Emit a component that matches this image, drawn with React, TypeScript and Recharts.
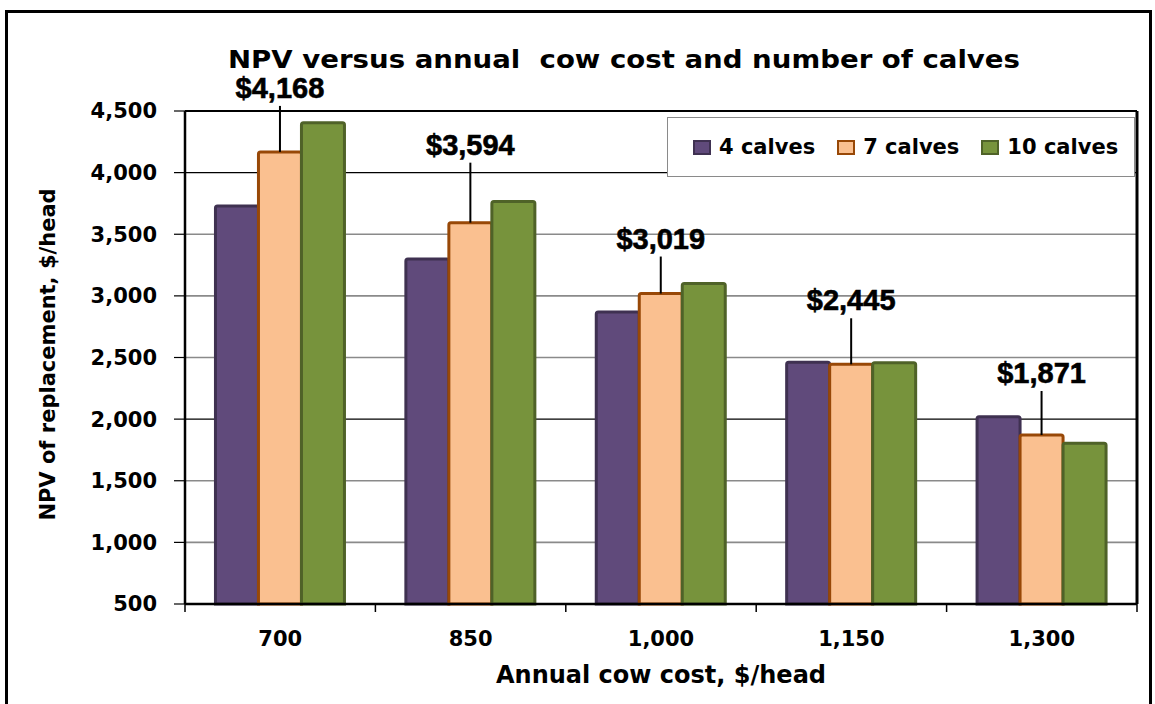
import React from "react";
import {
  Bar,
  BarChart,
  CartesianGrid,
  LabelList,
  Legend,
  XAxis,
  YAxis,
} from "recharts";

// annual cow cost, $/head
const costs = ["700", "850", "1,000", "1,150", "1,300"];

// NPV of replacement, $/head
const calves4 = [3730, 3300, 2870, 2462, 2020];
const calves7 = [4168, 3594, 3019, 2445, 1871];
const calves10 = [4405, 3765, 3100, 2458, 1805];

const yTicks = [500, 1000, 1500, 2000, 2500, 3000, 3500, 4000, 4500];
const seriesNames = ["4 calves", "7 calves", "10 calves"];

// callouts were hand placed in the original, so each sits a bit differently above its bar
const calloutRise = [54, 68, 45, 54, 52];

const W = 1155;
const H = 704;
const PLOT_LEFT = 185;
const PLOT_TOP = 111;
const PLOT_RIGHT = 1137;
const PLOT_BOTTOM = 604;
const BAND = (PLOT_RIGHT - PLOT_LEFT) / costs.length;

const FONT = "'DejaVu Sans', Verdana, sans-serif";

const series = [
  { key: "c4", name: seriesNames[0], fill: "#604A7B", stroke: "#3F3151" },
  { key: "c7", name: seriesNames[1], fill: "#FAC090", stroke: "#984807" },
  { key: "c10", name: seriesNames[2], fill: "#77933C", stroke: "#4F6228" },
];

const data = costs.map((cost, i) => ({
  cost,
  c4: calves4[i],
  c7: calves7[i],
  c10: calves10[i],
}));

const fmt = (v: number) => v.toLocaleString("en-US");

const GridRow = (p: any) => {
  const v = yTicks[p.index];
  const dark = v === 2000 || v === 4000;
  return (
    <line
      key={p.key}
      x1={p.x1}
      x2={p.x2}
      y1={p.y1}
      y2={p.y2}
      stroke={dark ? "#000" : "#8a8a8a"}
      strokeWidth={dark ? 1.2 : 1.6}
    />
  );
};

const CostTick = (props: any) => {
  const { x, y, payload, index } = props;
  const edge = x - BAND / 2;
  return (
    <g>
      <line x1={edge} x2={edge} y1={y} y2={y + 8} stroke="#000" strokeWidth={1.5} />
      {index === costs.length - 1 && (
        <line x1={x + BAND / 2} x2={x + BAND / 2} y1={y} y2={y + 8} stroke="#000" strokeWidth={1.5} />
      )}
      <text
        x={x}
        y={y + 42}
        textAnchor="middle"
        fontFamily={FONT}
        fontWeight="bold"
        fontSize={21}
        fill="#000"
      >
        {payload.value}
      </text>
    </g>
  );
};

const Callout = (props: any) => {
  const { x, y, width, value, index } = props;
  const cx = x + width / 2;
  const rise = calloutRise[index];
  return (
    <g>
      <line x1={cx} x2={cx} y1={y - rise + 8} y2={y} stroke="#000" strokeWidth={2} />
      <text
        x={cx}
        y={y - rise}
        textAnchor="middle"
        fontFamily="'Liberation Sans', Arial, sans-serif"
        fontWeight="bold"
        fontSize={29}
        fill="#000"
        stroke="#000"
        strokeWidth={0.6}
      >
        ${fmt(value)}
      </text>
    </g>
  );
};

const LegendBox = () => (
  <div
    style={{
      boxSizing: "border-box",
      width: 468,
      height: 60,
      border: "1px solid #8a8a8a",
      background: "#fff",
      display: "flex",
      alignItems: "center",
      paddingLeft: 25,
      fontFamily: FONT,
      fontWeight: "bold",
      fontSize: 21,
      color: "#000",
      whiteSpace: "nowrap",
    }}
  >
    {series.map((s) => (
      <div key={s.key} style={{ display: "flex", alignItems: "center", marginRight: 22, flex: "none" }}>
        <span
          style={{
            boxSizing: "border-box",
            display: "inline-block",
            width: 18,
            height: 15,
            background: s.fill,
            border: `2px solid ${s.stroke}`,
            marginRight: 8,
          }}
        />
        <span>{s.name}</span>
      </div>
    ))}
  </div>
);

export default function App() {
  return (
    <div style={{ position: "absolute", left: 0, top: 0, width: W, height: H, background: "#fff", overflow: "hidden" }}>
      <div
        style={{
          position: "absolute",
          left: 5,
          top: 10,
          width: 1147,
          height: 720,
          boxSizing: "border-box",
          border: "3px solid #000",
        }}
      />
      <BarChart
        width={W}
        height={H}
        data={data}
        margin={{ top: PLOT_TOP, right: W - PLOT_RIGHT, left: 0, bottom: 0 }}
        barGap={0}
        barCategoryGap="16%"
      >
        <CartesianGrid vertical={false} horizontal={GridRow} />
        <XAxis
          dataKey="cost"
          height={H - PLOT_BOTTOM}
          interval={0}
          tickSize={0}
          tickMargin={0}
          tickLine={false}
          axisLine={{ stroke: "#000", strokeWidth: 2.5 }}
          tick={CostTick}
          label={{
            content: (p: any) => (
              <text
                x={p.viewBox.x + p.viewBox.width / 2}
                y={p.viewBox.y + 79}
                textAnchor="middle"
                fontFamily={FONT}
                fontWeight="bold"
                fontSize={24}
                fill="#000"
              >
                Annual cow cost, $/head
              </text>
            ),
          }}
        />
        <YAxis
          width={PLOT_LEFT}
          domain={[500, 4500]}
          ticks={yTicks}
          interval={0}
          tickSize={11}
          tickMargin={17}
          tickFormatter={fmt}
          axisLine={{ stroke: "#000", strokeWidth: 2.5 }}
          tickLine={{ stroke: "#000", strokeWidth: 1.2 }}
          tick={{ fill: "#000", fontSize: 21, fontWeight: "bold", fontFamily: FONT }}
          label={{
            content: (p: any) => {
              const cy = p.viewBox.y + p.viewBox.height / 2 - 3;
              return (
                <text
                  x={55}
                  y={cy}
                  transform={`rotate(-90 55 ${cy})`}
                  textAnchor="middle"
                  fontFamily={FONT}
                  fontWeight="bold"
                  fontSize={21}
                  fill="#000"
                >
                  NPV of replacement, $/head
                </text>
              );
            },
          }}
        />
        <Legend
          layout="horizontal"
          align="center"
          verticalAlign="middle"
          content={() => <LegendBox />}
          wrapperStyle={{ left: 667, top: 117, width: 468, height: 60 }}
        />
        {series.map((s) => (
          <Bar
            key={s.key}
            dataKey={s.key}
            name={s.name}
            fill={s.fill}
            stroke={s.stroke}
            strokeWidth={3}
            radius={[2, 2, 0, 0]}
            isAnimationActive={false}
          >
            {s.key === "c7" && <LabelList dataKey="c7" content={Callout} />}
          </Bar>
        ))}
      </BarChart>
      <svg
        width={W}
        height={H}
        style={{ position: "absolute", left: 0, top: 0, pointerEvents: "none" }}
      >
        <text
          x={624}
          y={68}
          textAnchor="middle"
          fontFamily={FONT}
          fontWeight="bold"
          fontSize={24}
          textLength={792}
          lengthAdjust="spacingAndGlyphs"
          style={{ whiteSpace: "pre" }}
        >
          NPV versus annual  cow cost and number of calves
        </text>
        <line x1={PLOT_LEFT} x2={PLOT_RIGHT} y1={PLOT_TOP} y2={PLOT_TOP} stroke="#000" strokeWidth={2} />
        <line x1={PLOT_RIGHT} x2={PLOT_RIGHT} y1={PLOT_TOP} y2={PLOT_BOTTOM} stroke="#000" strokeWidth={3} />
      </svg>
    </div>
  );
}
